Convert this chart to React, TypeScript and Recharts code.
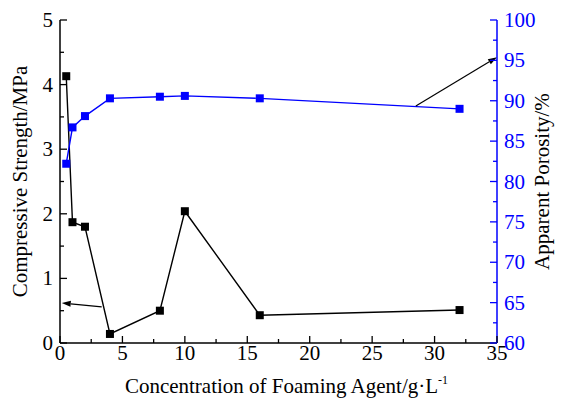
import React from 'react';
import { ComposedChart, Line, XAxis, YAxis, ReferenceLine } from 'recharts';

const concentrations = [0.5, 1, 2, 4, 8, 10, 16, 32];
const strength = [4.13, 1.87, 1.8, 0.14, 0.5, 2.04, 0.43, 0.51];
const porosity = [82.2, 86.7, 88.1, 90.3, 90.5, 90.6, 90.3, 89.0];

const xTicks = [0, 2.5, 5, 7.5, 10, 12.5, 15, 17.5, 20, 22.5, 25, 27.5, 30, 32.5, 35];
const leftTicks = [0, 0.5, 1, 1.5, 2, 2.5, 3, 3.5, 4, 4.5, 5];
const rightTicks = [60, 62.5, 65, 67.5, 70, 72.5, 75, 77.5, 80, 82.5, 85, 87.5, 90, 92.5, 95, 97.5, 100];

const arrowLeft = [{ x: 3.34, y: 0.56 }, { x: 0.14, y: 0.62 }];
const arrowRight = [{ x: 28.5, y: 89.35 }, { x: 35, y: 95.4 }];

const data = concentrations.map((c, i) => ({ c, s: strength[i], p: porosity[i] }));

const FONT = '"Liberation Serif", "Times New Roman", serif';
const BLUE = '#0000ff';
const MAJ = 7;
const MIN = 4;

const BottomTick = (props: any) => {
  const { x, y, payload } = props;
  const major = payload.value % 5 === 0;
  return (
    <g>
      <line x1={x} x2={x} y1={y} y2={y - (major ? MAJ : MIN)} stroke="#000" strokeWidth={1.3} />
      {major && (
        <text x={x} y={y + 17} textAnchor="middle" fontFamily={FONT} fontSize={21} fill="#000">
          {payload.value}
        </text>
      )}
    </g>
  );
};

const TopTick = (props: any) => {
  const { x, y, payload } = props;
  const major = payload.value % 5 === 0;
  return <line x1={x} x2={x} y1={y} y2={y + (major ? MAJ : MIN)} stroke="#000" strokeWidth={1.3} />;
};

const LeftTick = (props: any) => {
  const { x, y, payload } = props;
  const major = payload.value % 1 === 0;
  return (
    <g>
      <line x1={x} x2={x + (major ? MAJ : MIN)} y1={y} y2={y} stroke="#000" strokeWidth={1.3} />
      {major && (
        <text x={x - 7} y={y + 7} textAnchor="end" fontFamily={FONT} fontSize={21} fill="#000">
          {payload.value}
        </text>
      )}
    </g>
  );
};

const RightTick = (props: any) => {
  const { x, y, payload } = props;
  const major = payload.value % 5 === 0;
  return (
    <g>
      <line x1={x} x2={x - (major ? MAJ : MIN)} y1={y} y2={y} stroke={BLUE} strokeWidth={1.3} />
      {major && (
        <text x={x + 7} y={y + 7} textAnchor="start" fontFamily={FONT} fontSize={21} fill={BLUE}>
          {payload.value}
        </text>
      )}
    </g>
  );
};

const Arrow = (props: any) => {
  const { x1, y1, x2, y2 } = props;
  const ang = Math.atan2(y2 - y1, x2 - x1);
  const len = 9;
  const w = 3;
  const bx = x2 - len * Math.cos(ang);
  const by = y2 - len * Math.sin(ang);
  const px = -Math.sin(ang) * w;
  const py = Math.cos(ang) * w;
  return (
    <g>
      <line x1={x1} y1={y1} x2={bx} y2={by} stroke="#000" strokeWidth={1.2} />
      <polygon points={`${x2},${y2} ${bx + px},${by + py} ${bx - px},${by - py}`} fill="#000" />
    </g>
  );
};

const Square = (color: string) => (p: any) => (
  <rect key={`${color}-${p.index}`} x={p.cx - 4} y={p.cy - 4} width={8} height={8} fill={color} />
);

export default function App() {
  return (
    <div style={{ position: 'absolute', left: 0, top: 0, background: '#fff' }}>
      <ComposedChart
        width={565}
        height={398}
        data={data}
        margin={{ top: 20, right: 23, bottom: 15, left: 15 }}
      >
        <XAxis
          dataKey="c"
          type="number"
          domain={[0, 35]}
          ticks={xTicks}
          interval={0}
          height={40}
          tickSize={0}
          tickMargin={0}
          tickLine={false}
          tick={<BottomTick />}
          axisLine={{ stroke: '#000', strokeWidth: 1.5 }}
          label={{
            content: (lp: any) => {
              const vb = lp.viewBox;
              return (
                <text x={vb.x + vb.width / 2 + 8} y={393} textAnchor="middle" fontFamily={FONT} fontSize={21} fill="#000">
                  Concentration of Foaming Agent/g·L
                  <tspan dy={-9} fontSize={12}>-1</tspan>
                </text>
              );
            },
          }}
        />
        <XAxis
          xAxisId="top"
          orientation="top"
          type="number"
          domain={[0, 35]}
          ticks={xTicks}
          interval={0}
          height={0}
          tickSize={0}
          tickMargin={0}
          tickLine={false}
          tick={<TopTick />}
          axisLine={{ stroke: '#000', strokeWidth: 1.5 }}
        />
        <YAxis
          yAxisId="left"
          domain={[0, 5]}
          ticks={leftTicks}
          interval={0}
          width={45}
          tickSize={0}
          tickMargin={0}
          tickLine={false}
          tick={<LeftTick />}
          axisLine={{ stroke: '#000', strokeWidth: 1.5 }}
          label={{
            content: (lp: any) => {
              const vb = lp.viewBox;
              const cy = vb.y + vb.height / 2;
              return (
                <text x={27} y={cy} transform={`rotate(-90, 27, ${cy})`} textAnchor="middle" fontFamily={FONT} fontSize={21} fill="#000">
                  Compressive Strength/MPa
                </text>
              );
            },
          }}
        />
        <YAxis
          yAxisId="right"
          orientation="right"
          domain={[60, 100]}
          ticks={rightTicks}
          interval={0}
          width={45}
          tickSize={0}
          tickMargin={0}
          tickLine={false}
          tick={<RightTick />}
          axisLine={{ stroke: BLUE, strokeWidth: 1.5 }}
          label={{
            content: (lp: any) => {
              const vb = lp.viewBox;
              const cy = vb.y + vb.height / 2;
              return (
                <text x={549} y={cy} transform={`rotate(-90, 549, ${cy})`} textAnchor="middle" fontFamily={FONT} fontSize={21} fill="#000">
                  Apparent Porosity/%
                </text>
              );
            },
          }}
        />
        <Line
          yAxisId="left"
          dataKey="s"
          type="linear"
          stroke="#000"
          strokeWidth={1.4}
          dot={Square('#000')}
          activeDot={false}
          isAnimationActive={false}
        />
        <Line
          yAxisId="right"
          dataKey="p"
          type="linear"
          stroke={BLUE}
          strokeWidth={1.4}
          dot={Square(BLUE)}
          activeDot={false}
          isAnimationActive={false}
        />
        <ReferenceLine
          yAxisId="left"
          segment={arrowLeft}
          ifOverflow="visible"
          shape={(p: any) => <Arrow {...p} />}
        />
        <ReferenceLine
          yAxisId="right"
          segment={arrowRight}
          ifOverflow="visible"
          shape={(p: any) => <Arrow {...p} />}
        />
      </ComposedChart>
    </div>
  );
}
